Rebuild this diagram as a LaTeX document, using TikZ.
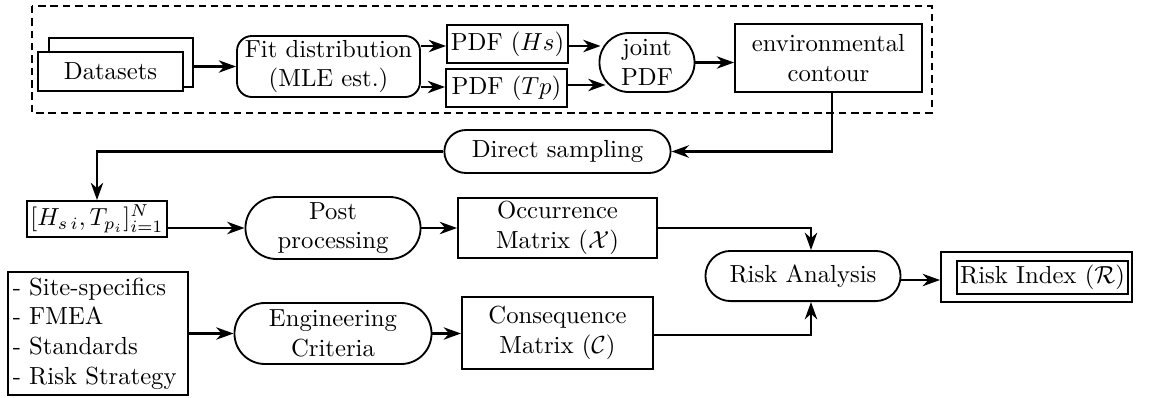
\documentclass[tikz,border=0pt]{standalone}
\usetikzlibrary{arrows.meta,shapes.misc,calc}
\begin{document}
\begin{tikzpicture}[x=0.4049pt,y=-0.4049pt,
  box/.style={draw,line width=0.75pt,inner sep=1pt,align=center,fill=white},
  pill/.style={box,shape=rounded rectangle},
  arr/.style={line width=1pt,-{Stealth[length=7pt,width=5pt,inset=2.2pt]}},
  frame/.style={draw,line width=1.1pt,dash pattern=on 3pt off 2pt}]
\useasboundingbox (0,0) rectangle (1151,397);

% environmental modelling stage
\draw[frame] (32,6) rectangle (932,113);

\node[box,minimum width=58.3pt,minimum height=19.8pt] (dback) at (121,62.5) {};
\node[box,minimum width=58.7pt,minimum height=15.8pt] (data) at (110.5,71.5) {Datasets};
\node[box,rounded corners=6pt,minimum width=74.1pt,minimum height=24.7pt] (fit) at (328.5,66.5) {Fit distribution\\(MLE est.)};
\node[box,minimum width=49pt,minimum height=15.4pt] (pdfH) at (507.5,44) {PDF ($Hs$)};
\node[box,minimum width=49pt,minimum height=15.4pt] (pdfT) at (506.5,88) {PDF ($Tp$)};
\node[pill,minimum width=40.5pt,minimum height=23.9pt] (joint) at (647,62.5) {joint\\PDF};
\node[box,minimum width=75.7pt,minimum height=27.5pt] (env) at (828.5,58) {environmental\\contour};

% sampling and risk stages
\node[pill,minimum width=93.6pt,minimum height=17.4pt] (direct) at (557.5,151.5) {Direct sampling};
\node[box,minimum width=56.7pt,minimum height=14.6pt,inner sep=0.5pt] (hs) at (97,219) {$[H_{s\,i},T_{p_i}]_{i=1}^{N}$};
\node[pill,minimum width=72.9pt,minimum height=25.1pt] (post) at (333,228) {Post\\processing};
\node[box,minimum width=80.6pt,minimum height=24.3pt] (occ) at (557.5,228) {Occurrence\\Matrix ($\mathcal{X}$)};
\node[box,text width=69pt,inner xsep=2pt,align=left,minimum height=49.8pt] (list) at (98,333.5) {- Site-specifics\\- FMEA\\- Standards\\- Risk Strategy};
\node[pill,minimum width=81.8pt,minimum height=24.7pt] (eng) at (333,333.5) {Engineering\\Criteria};
\node[box,minimum width=77.4pt,minimum height=29.2pt] (cons) at (557.5,333) {Consequence\\Matrix ($\mathcal{C}$)};
\node[pill,minimum width=81pt,minimum height=20.3pt] (risk) at (803,276) {Risk Analysis};
\node[box,minimum width=77.4pt,minimum height=20.3pt] (idxbox) at (1036.5,277) {};
\node[box,minimum width=69.3pt,minimum height=13.4pt,inner sep=0.5pt] (idx) at (1042.5,277.5) {Risk Index ($\mathcal{R}$)};

% connectors
\draw[arr] (dback.east |- fit.west) -- (fit.west);
\draw[arr] (fit.east |- 0,46) -- (pdfH.west |- 0,46);
\draw[arr] (fit.east |- 0,87) -- (pdfT.west |- 0,87);
\draw[arr] (pdfH.east |- 0,46) -- ($(joint.west |- 0,46)+(2,0)$);
\draw[arr] (pdfT.east |- 0,85) -- ($(joint.west |- 0,85)+(7,0)$);
\draw[arr] (joint.east) -- (env.west |- joint.east);
\draw[arr] ($(env.south)+(3.5,0)$) |- (direct.east);
\draw[arr] (direct.west) -| (hs.north);
\draw[arr] (hs.east |- post.west) -- (post.west);
\draw[arr] (post.east) -- (occ.west);
\draw[arr] (occ.east) -| ($(risk.north)+(8,0)$);
\draw[arr] (list.east |- eng.west) -- (eng.west);
\draw[arr] (eng.east) -- (cons.west |- eng.east);
\draw[arr] ($(cons.east)+(0,2)$) -| ($(risk.south)+(8,0)$);
\draw[arr] ($(risk.east)+(0,4)$) -- (idxbox.west |- 0,280);
\end{tikzpicture}
\end{document}
